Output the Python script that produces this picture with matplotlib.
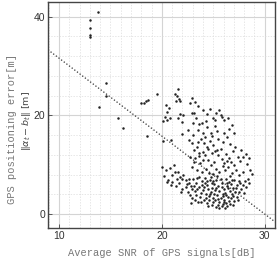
import matplotlib
matplotlib.use("Agg")
from matplotlib import pyplot as plt
from matplotlib.ticker import MultipleLocator

# average SNR [dB] vs positioning error [m]
snr_outliers = [13.0, 13.8, 13.0, 13.0, 13.0, 14.6, 14.6, 13.9, 15.7, 16.2, 18.6,
                18.0, 18.3, 18.5, 18.7, 19.5]
err_outliers = [39.3, 41.0, 37.7, 36.2, 35.8, 26.6, 23.9, 21.7, 19.5, 17.5, 15.9,
                22.4, 22.6, 22.9, 23.1, 24.4]

snr_upper = [21.3, 21.5, 21.7, 21.8, 21.55, 21.4, 20.4, 20.7, 20.5, 20.3, 20.1, 20.5,
             20.8, 21.8, 22.1, 21.6, 22.0, 22.7, 22.9, 23.1, 23.3, 23.6, 23.0, 23.9,
             24.3, 24.4, 25.2, 25.6, 25.0, 25.8, 26.0, 23.5, 24.0, 24.8, 25.4, 22.5,
             22.0, 22.9, 23.2, 23.5, 24.0, 24.4, 24.7, 25.3, 25.7, 26.4, 26.8, 26.5,
             27.0]
err_upper = [24.3, 23.9, 23.4, 22.9, 25.4, 23.0, 22.1, 21.4, 20.7, 19.7, 18.9, 19.0,
             19.4, 20.3, 20.0, 19.4, 18.7, 22.4, 20.4, 20.5, 19.4, 18.2, 18.4, 18.4,
             18.9, 17.6, 19.1, 21.0, 19.4, 19.6, 19.0, 17.0, 16.5, 16.4, 16.8, 17.0,
             16.2, 23.5, 22.7, 21.8, 21.0, 20.2, 21.3, 20.5, 20.1, 19.4, 18.0, 17.2,
             16.5]

snr_left = [20.1, 20.9, 20.0, 20.4, 20.8, 21.2, 21.6, 20.6, 21.0, 21.8, 22.1, 22.3,
            22.6, 20.9, 21.4, 22.0, 22.8, 21.7, 22.5, 22.9, 23.3, 22.8, 21.0]
err_left = [14.7, 15.0, 9.6, 8.9, 9.3, 10.0, 8.5, 7.0, 6.5, 7.5, 7.9, 6.8,
            6.2, 5.9, 5.6, 5.0, 5.7, 6.3, 4.5, 3.3, 3.9, 2.2, 7.9]

snr_mid = [22.6, 22.9, 23.1, 23.4, 23.6, 22.7, 23.2, 23.7, 24.0, 24.2, 24.5, 24.4,
           24.1, 23.8, 24.7, 25.0, 25.2, 25.5, 25.8, 26.0, 25.1, 24.8, 24.3, 23.9,
           23.4, 22.9, 23.1, 24.6, 25.3, 25.6, 26.1, 26.4, 26.2, 26.5, 26.7, 27.0,
           26.9, 27.4, 25.7, 25.9, 26.3, 25.5, 24.9, 24.2, 23.5, 23.0, 26.6, 27.1,
           27.7, 28.2, 28.5, 28.3, 28.6, 28.8, 27.9, 27.5, 27.2, 26.8, 24.0, 23.6,
           24.9, 25.4, 24.5, 25.9, 26.3, 25.0, 27.6, 27.9, 26.0, 25.2]
err_mid = [15.0, 14.3, 13.0, 13.6, 12.3, 11.6, 11.3, 10.3, 12.6, 12.0, 11.0, 13.5,
           14.3, 15.2, 14.8, 13.9, 12.7, 11.9, 11.1, 10.3, 10.6, 9.9, 9.1, 8.6,
           8.9, 9.6, 10.6, 8.4, 9.1, 8.6, 8.9, 9.6, 12.1, 11.3, 10.6, 9.9,
           12.8, 11.5, 13.2, 14.6, 15.6, 15.3, 15.8, 15.6, 14.6, 16.0, 14.1, 13.6,
           12.9, 12.1, 11.3, 10.1, 9.0, 8.1, 8.6, 7.9, 9.0, 8.3, 10.9, 11.8,
           12.3, 13.0, 13.1, 9.7, 10.8, 8.1, 10.8, 11.6, 16.5, 17.9]

snr_low = [23.0, 23.3, 23.6, 23.9, 24.2, 24.4, 24.7, 24.9, 25.1, 25.3, 25.5, 25.6,
           25.8, 26.0, 26.1, 26.3, 26.4, 26.6, 26.7, 26.9, 27.1, 27.3, 27.5, 27.7,
           27.9, 28.1, 28.4, 24.0, 24.3, 24.6, 24.8, 25.0, 25.2, 25.4, 25.6, 25.7,
           25.9, 26.0, 26.2, 26.3, 26.5, 26.7, 25.8, 25.5, 26.1, 24.1, 23.7, 23.5,
           24.4, 24.9, 27.0, 27.3, 23.8, 23.2, 22.9, 24.5, 25.2, 25.9, 26.8, 27.5,
           24.2, 24.8, 25.4, 26.2, 26.6, 27.0, 23.6, 22.4, 22.0, 21.5, 26.5, 25.0,
           24.6, 26.9, 25.3, 28.0, 26.4, 25.7, 23.4, 24.1,
           24.3, 24.7, 25.1, 25.5, 25.9, 26.2, 26.6, 26.0, 25.6, 25.0, 24.5, 25.8,
           26.3, 24.9, 23.9, 23.4, 27.2, 27.6, 28.2, 28.5, 26.8, 25.3, 24.4, 23.1,
           22.6, 22.3, 21.9, 21.3, 20.2, 20.5, 27.4, 26.9, 23.8, 23.2, 22.7]
err_low = [7.1, 6.2, 5.4, 6.6, 7.3, 5.9, 6.8, 5.2, 6.0, 7.0, 5.6, 4.6,
           6.3, 5.1, 4.2, 5.7, 3.5, 4.7, 6.0, 5.3, 4.5, 5.8, 6.6, 5.1,
           5.9, 6.6, 7.1, 4.8, 4.1, 3.6, 4.5, 3.3, 2.8, 3.9, 2.4, 3.3,
           2.0, 2.9, 2.3, 1.7, 2.6, 3.2, 1.6, 1.9, 1.3, 2.9, 3.5, 2.5,
           2.2, 1.9, 2.6, 3.4, 4.3, 4.6, 5.0, 5.0, 4.8, 4.0, 4.0, 4.4,
           6.2, 7.5, 7.8, 7.2, 7.7, 7.0, 7.6, 6.0, 7.1, 7.2, 6.5, 6.7,
           2.8, 1.9, 1.5, 4.2, 5.2, 7.2, 5.0, 5.5,
           3.3, 4.0, 4.1, 3.1, 3.6, 3.8, 2.1, 2.5, 1.2, 2.4, 1.7, 5.4,
           6.2, 6.3, 5.9, 7.3, 5.2, 6.2, 5.4, 6.3, 6.8, 5.3, 6.6, 5.7,
           7.2, 5.4, 4.5, 8.6, 7.8, 6.4, 2.9, 3.6, 2.4, 2.9, 3.8]

# fitted trend line
fit_intercept = 47.4
fit_slope = -1.58

snr = snr_outliers + snr_upper + snr_left + snr_mid + snr_low
err = err_outliers + err_upper + err_left + err_mid + err_low

fig = plt.figure(figsize=(2.77, 2.58), dpi=100)
ax = fig.add_axes([0.173, 0.116, 0.82, 0.877])

xlim = (8.93, 31.0)
ax.set_xlim(xlim)
ax.set_ylim(-2.84, 43.0)

ax.xaxis.set_major_locator(MultipleLocator(10))
ax.xaxis.set_minor_locator(MultipleLocator(1))
ax.yaxis.set_major_locator(MultipleLocator(20))
ax.yaxis.set_minor_locator(MultipleLocator(4))
ax.grid(which='major', color='#d4d4d4', lw=0.8, ls='-')
ax.grid(which='minor', color='#dcdcdc', lw=0.5, ls=(0, (2, 2)))
ax.set_axisbelow(True)

ax.plot(xlim, [fit_intercept + fit_slope * v for v in xlim], ls=':', color='#333333', lw=0.9)
ax.scatter(snr, err, s=3.2, color='#222222', lw=0, zorder=3)

for s in ax.spines.values():
    s.set_color('#444444')
    s.set_linewidth(1.0)
ax.tick_params(which='major', direction='in', length=3, width=0.6, colors='#444444',
               labelsize=7.5, labelcolor='#333333', pad=2)
ax.tick_params(which='minor', length=0)
for lab in ax.get_xticklabels() + ax.get_yticklabels():
    lab.set_family('Liberation Sans')

ax.set_xlabel('Average SNR of GPS signals[dB]', family='Liberation Mono', fontsize=7.5,
              color='#777777', labelpad=5)
fig.text(0.045, 0.5, 'GPS positioning error[m]', family='Liberation Mono', fontsize=7.5,
         color='#777777', rotation=90, ha='center', va='center')
fig.text(0.097, 0.53, r'$\Vert\alpha_t - b_t\Vert$ [m]', fontsize=6.8, color='#444444',
         rotation=90, ha='center', va='center')

fig.savefig('out.png', dpi=100)
